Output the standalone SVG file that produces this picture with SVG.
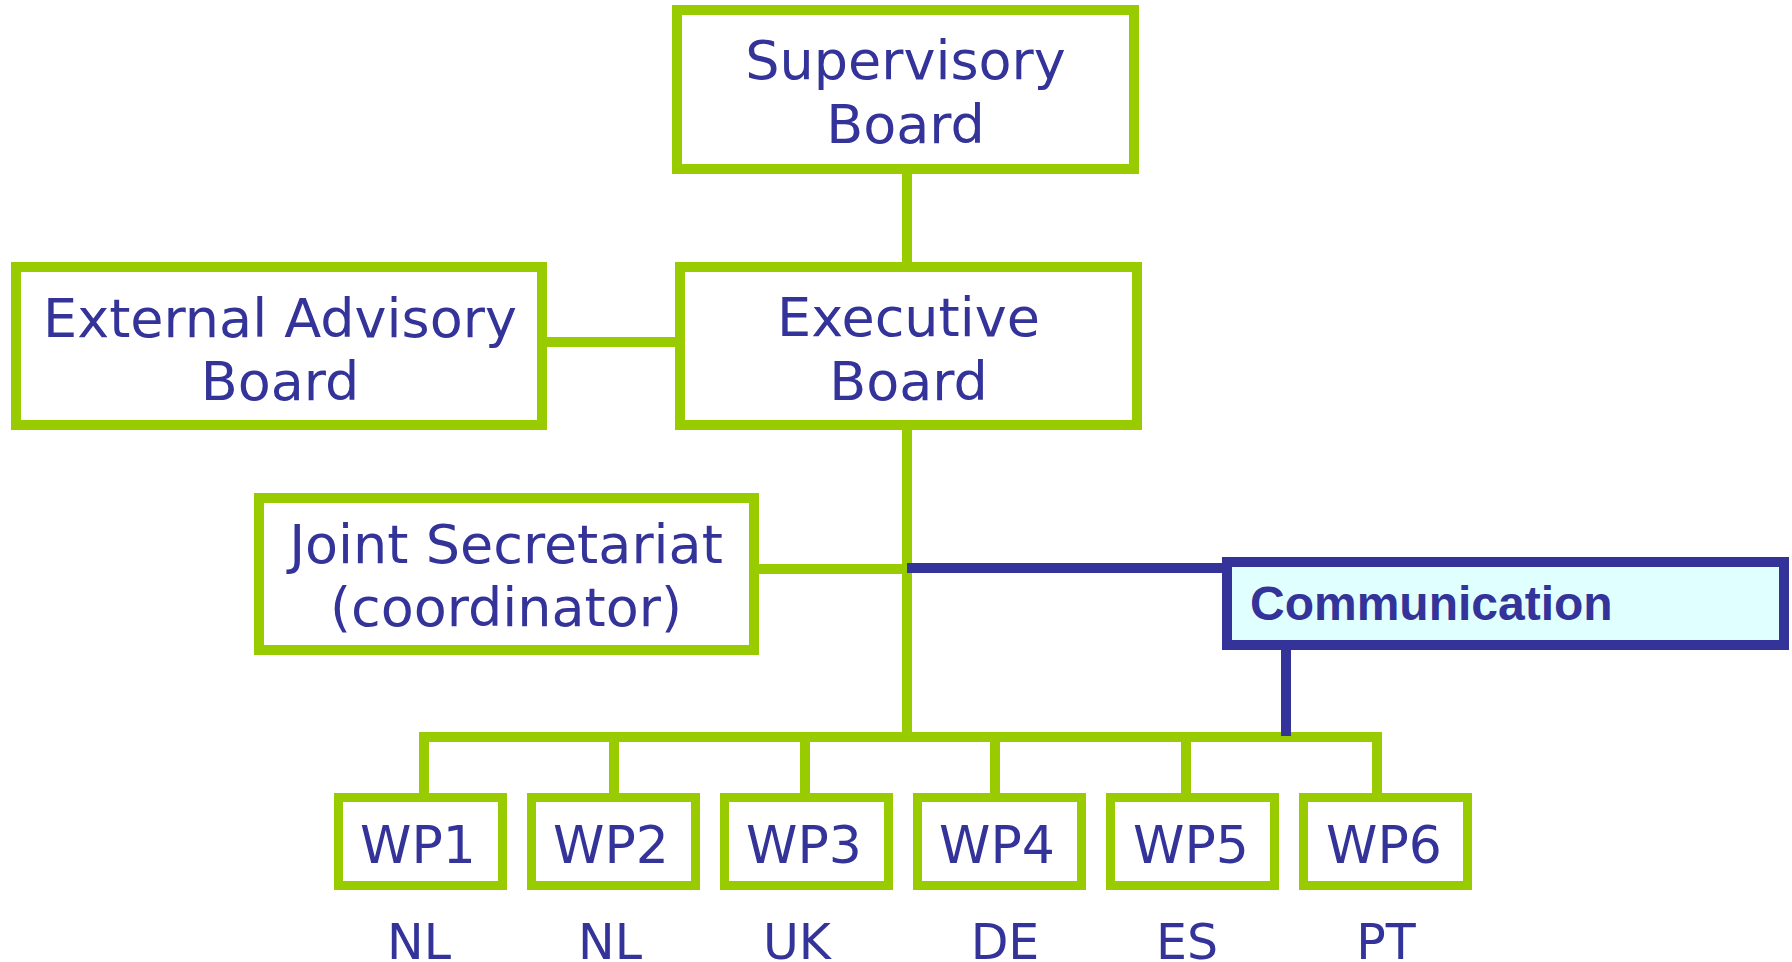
<svg xmlns="http://www.w3.org/2000/svg" width="1792" height="962" viewBox="0 0 1792 962">
<style>
.box{fill:#FFFFFF;stroke:#99CC00;stroke-width:10}
.wp{fill:#FFFFFF;stroke:#99CC00;stroke-width:9}
.comm{fill:#E0FFFF;stroke:#333399;stroke-width:10}
.g{fill:none;stroke:#99CC00;stroke-width:10}
.b{fill:none;stroke:#333399;stroke-width:10}
.t{font-family:"DejaVu Sans",Verdana,sans-serif;font-size:54px;fill:#333399;text-anchor:middle}
.tw{font-family:"DejaVu Sans",Verdana,sans-serif;font-size:52px;fill:#333399;text-anchor:middle}
.tc{font-family:"DejaVu Sans",Verdana,sans-serif;font-size:49px;fill:#333399;text-anchor:middle}
.tb{font-family:"Liberation Sans",Arial,sans-serif;font-size:48px;font-weight:bold;fill:#333399}
</style>
<rect width="1792" height="962" fill="#FFFFFF"/>
<g id="connectors">
<line class="g" x1="907" y1="170" x2="907" y2="266"/>
<line class="g" x1="542" y1="342" x2="684" y2="342"/>
<line class="g" x1="907" y1="425" x2="907" y2="742"/>
<line class="g" x1="754" y1="569" x2="907" y2="569"/>
<path class="g" d="M424,800 V737 H1377 V800"/>
<line class="g" x1="614" y1="737" x2="614" y2="800"/>
<line class="g" x1="805" y1="737" x2="805" y2="800"/>
<line class="g" x1="995" y1="737" x2="995" y2="800"/>
<line class="g" x1="1186" y1="737" x2="1186" y2="800"/>
<line class="b" x1="907" y1="568" x2="1230" y2="568"/>
<line class="b" x1="1286" y1="645" x2="1286" y2="736"/>
</g>
<g id="supervisory">
<rect class="box" x="677" y="10" width="457" height="159"/>
<text class="t" x="905.5" y="79">Supervisory</text>
<text class="t" x="905.5" y="143">Board</text>
</g>
<g id="executive">
<rect class="box" x="680" y="267" width="457" height="158"/>
<text class="t" x="908.5" y="336">Executive</text>
<text class="t" x="908.5" y="400">Board</text>
</g>
<g id="external">
<rect class="box" x="16" y="267" width="526" height="158"/>
<text class="t" x="280" y="337">External Advisory</text>
<text class="t" x="280" y="400">Board</text>
</g>
<g id="joint">
<rect class="box" x="259" y="498" width="495" height="152"/>
<text class="t" x="506" y="563">Joint Secretariat</text>
<text class="t" x="506" y="626">(coordinator)</text>
</g>
<g id="communication">
<rect class="comm" x="1227" y="562" width="557" height="83"/>
<text class="tb" x="1250" y="620">Communication</text>
</g>
<g id="wp1">
<rect class="wp" x="338.5" y="797.5" width="164" height="88"/>
<text class="tw" x="418" y="863">WP1</text>
<text class="tc" x="419" y="959">NL</text>
</g>
<g id="wp2">
<rect class="wp" x="531.5" y="797.5" width="164" height="88"/>
<text class="tw" x="611" y="863">WP2</text>
<text class="tc" x="610" y="959">NL</text>
</g>
<g id="wp3">
<rect class="wp" x="724.5" y="797.5" width="164" height="88"/>
<text class="tw" x="804" y="863">WP3</text>
<text class="tc" x="797" y="959">UK</text>
</g>
<g id="wp4">
<rect class="wp" x="917.5" y="797.5" width="164" height="88"/>
<text class="tw" x="997" y="863">WP4</text>
<text class="tc" x="1005" y="959">DE</text>
</g>
<g id="wp5">
<rect class="wp" x="1110.5" y="797.5" width="164" height="88"/>
<text class="tw" x="1191" y="863">WP5</text>
<text class="tc" x="1187" y="959">ES</text>
</g>
<g id="wp6">
<rect class="wp" x="1303.5" y="797.5" width="164" height="88"/>
<text class="tw" x="1384" y="863">WP6</text>
<text class="tc" x="1386" y="959">PT</text>
</g>
</svg>
